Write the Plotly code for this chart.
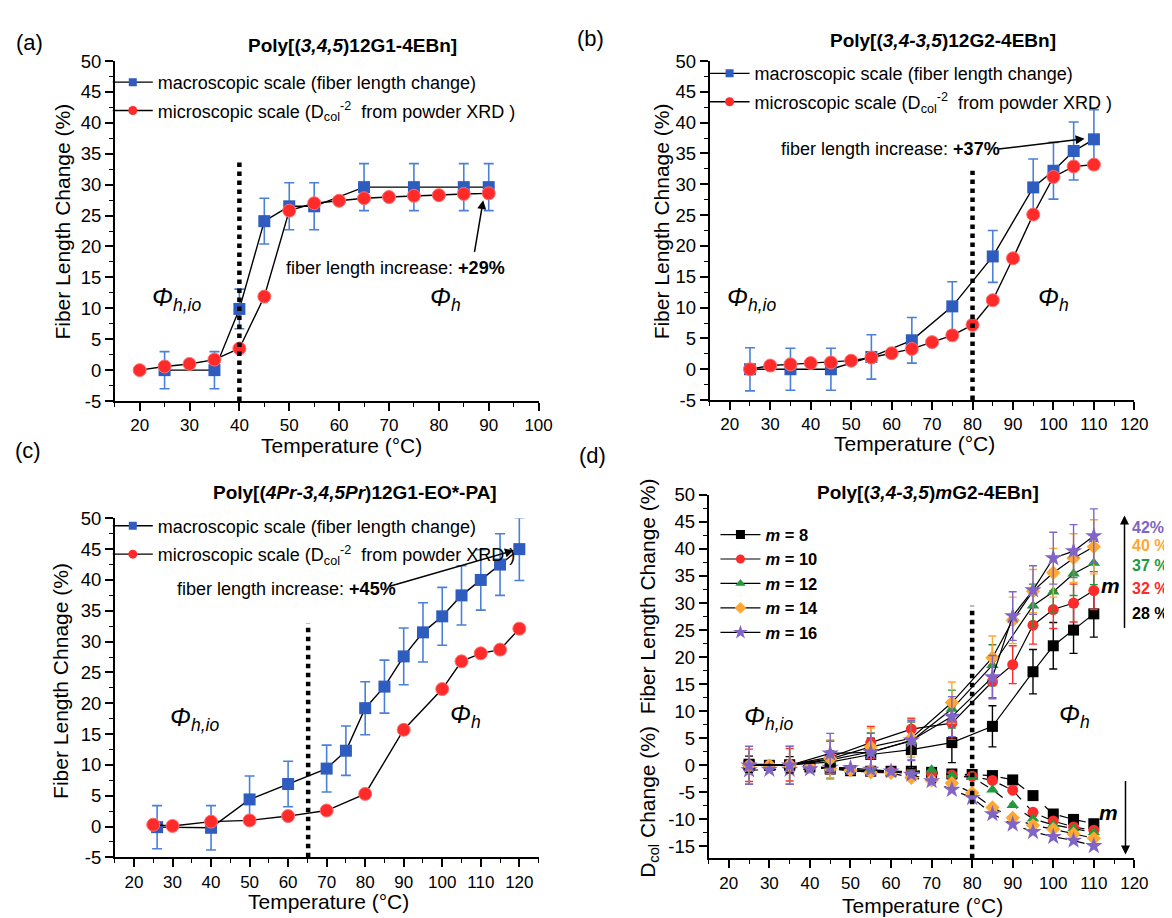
import plotly.graph_objects as go

# ---------------- data ----------------
# (a) Poly[(3,4,5)12G1-4EBn]
a_macro_T = [25, 35, 40, 45, 50, 55, 65, 75, 85, 90]
a_macro_v = [0, 0, 9.9, 24.1, 26.5, 26.5, 29.6, 29.6, 29.6, 29.6]
a_macro_err = [3.0, 3.0, 3.2, 3.7, 3.8, 3.8, 3.8, 3.8, 3.8, 3.8]
a_micro_T = [20, 25, 30, 35, 40, 45, 50, 55, 60, 65, 70, 75, 80, 85, 90]
a_micro_v = [0, 0.6, 1.0, 1.7, 3.5, 11.9, 25.8, 27.0, 27.4, 27.8, 28.0, 28.2, 28.3, 28.5, 28.6]

# (b) Poly[(3,4-3,5)12G2-4EBn]
b_macro_T = [25, 35, 45, 55, 65, 75, 85, 95, 100, 105, 110]
b_macro_v = [0, 0, 0, 2.0, 4.7, 10.2, 18.3, 29.5, 32.2, 35.4, 37.3]
b_macro_err = [3.5, 3.4, 3.4, 3.6, 3.7, 4.0, 4.2, 4.6, 4.6, 4.7, 4.8]
b_micro_T = [25, 30, 35, 40, 45, 50, 55, 60, 65, 70, 75, 80, 85, 90, 95, 100, 105, 110]
b_micro_v = [0, 0.6, 0.8, 1.0, 1.1, 1.4, 1.9, 2.6, 3.3, 4.4, 5.5, 7.2, 11.2, 18.0, 25.1, 31.2, 32.9, 33.2]

# (c) Poly[(4Pr-3,4,5Pr)12G1-EO*-PA]
c_macro_T = [26, 40, 50, 60, 70, 75, 80, 85, 90, 95, 100, 105, 110, 115, 120]
c_macro_v = [-0.1, -0.2, 4.4, 6.9, 9.4, 12.3, 19.2, 22.7, 27.6, 31.5, 34.1, 37.5, 40.0, 42.5, 45.0]
c_macro_err = [3.5, 3.6, 3.8, 3.7, 3.8, 4.0, 4.3, 4.3, 4.6, 4.8, 4.7, 4.8, 4.9, 5.0, 5.1]
c_micro_T = [25, 30, 40, 50, 60, 70, 80, 90, 100, 105, 110, 115, 120]
c_micro_v = [0.3, 0.1, 0.8, 1.0, 1.7, 2.6, 5.3, 15.7, 22.3, 26.8, 28.1, 28.7, 32.1]

# (d) Poly[(3,4-3,5)mG2-4EBn]
d_labels = ["8", "10", "12", "14", "16"]
d_fib_T = [
    [25, 35, 45, 55, 65, 75, 85, 95, 100, 105, 110],
    [25, 35, 45, 55, 65, 75, 85, 90, 95, 100, 105, 110],
    [25, 35, 45, 55, 65, 75, 85, 95, 100, 105, 110],
    [25, 35, 45, 55, 65, 75, 85, 90, 95, 100, 105, 110],
    [25, 35, 45, 55, 65, 75, 85, 90, 95, 100, 105, 110],
]
d_fib_v = [
    [0.2, 0.1, 0.6, 2.0, 2.9, 4.2, 7.2, 17.3, 22.1, 25.0, 28.0],
    [0, 0.1, 1.5, 4.2, 6.7, 7.8, 15.5, 18.6, 25.9, 28.8, 30.0, 32.3],
    [0, 0, 1.0, 2.5, 4.5, 10.4, 18.5, 29.5, 32.1, 35.4, 37.4],
    [0, 0.1, 1.2, 3.4, 5.0, 11.6, 19.9, 26.8, 32.2, 35.6, 38.3, 40.4],
    [0, 0, 2.2, 2.4, 4.6, 9.0, 16.3, 27.6, 32.4, 38.3, 39.6, 42.4],
]
d_fib_err = [
    [1.5, 1.5, 2.0, 3.0, 3.5, 3.7, 3.8, 4.1, 4.3, 4.3, 4.3],
    [3.0, 3.0, 3.0, 3.0, 2.0, 3.0, 3.0, 3.5, 3.5, 3.5, 3.5, 3.5],
    [3.5, 3.5, 3.5, 3.5, 3.5, 3.5, 3.8, 4.0, 4.0, 4.0, 4.0],
    [3.5, 3.5, 3.5, 3.5, 3.5, 3.8, 4.0, 4.3, 4.0, 4.5, 4.5, 5.0],
    [3.5, 3.5, 3.7, 3.5, 3.7, 3.7, 4.0, 4.5, 4.5, 4.8, 4.9, 5.0],
]
d_col_T = [25, 30, 35, 40, 45, 50, 55, 60, 65, 70, 75, 80, 85, 90, 95, 100, 105, 110]
d_col_v = [
    [0, 0, 0, -0.3, -0.7, -1.0, -1.1, -1.1, -1.1, -1.3, -1.6, -1.7, -1.9, -2.7, -5.6, -9.0, -10.0, -10.8],
    [0, 0, 0, -0.3, -0.6, -0.9, -1.1, -1.2, -1.3, -1.5, -1.8, -2.0, -2.8, -4.6, -8.7, -10.3, -11.4, -12.0],
    [0, 0, 0, -0.2, -0.5, -0.8, -1.0, -1.1, -1.2, -0.8, -1.9, -2.2, -4.5, -7.4, -9.9, -11.0, -11.7, -12.4],
    [0, 0, 0, -0.3, -0.6, -0.9, -1.3, -1.4, -2.3, -2.8, -3.3, -5.1, -7.8, -9.7, -11.1, -11.8, -12.7, -13.5],
    [-0.9, -0.8, -0.8, -0.7, -0.4, -0.5, -0.8, -1.1, -1.7, -2.9, -4.5, -6.0, -9.0, -10.9, -12.3, -13.2, -13.9, -14.9],
]
d_final = ["28 %", "32 %", "37 %", "40 %", "42%"]

transition_T = [40, 80, 65.2, 80]
increase_labels = ["+29%", "+37%", "+45%"]

# ---------------- styling ----------------
W, H = 1172, 918
FONT = "Liberation Sans, Arial, sans-serif"
BLUE = "#2f5cbf"
BLUE_ERR = "#4a80d8"
RED = "#ff2a2a"
D_COLORS = ["#000000", "#ff2a2a", "#1f9a3c", "#ffa733", "#8064c6"]
D_SYMBOLS = ["square", "circle", "triangle-up", "diamond", "star"]


def px(x):
    return x / W


def py(y):
    return 1 - y / H


fig = go.Figure()

panels = [
    dict(ax="", dom_x=(108, 537), dom_y=(43, 391), xr=[15, 100], yr=[-5, 50], xt=list(range(20, 101, 10)), yt=list(range(-5, 51, 5))),
    dict(ax="2", dom_x=(710, 1140), dom_y=(43, 390), xr=[15, 120], yr=[-5, 50], xt=list(range(20, 121, 10)), yt=list(range(-5, 51, 5))),
    dict(ax="3", dom_x=(108, 537), dom_y=(511, 858), xr=[15, 125], yr=[-5, 50], xt=list(range(20, 121, 10)), yt=list(range(-5, 51, 5))),
    dict(ax="4", dom_x=(709, 1140), dom_y=(487, 859), xr=[15, 120], yr=[-17.2, 50], xt=list(range(20, 121, 10)), yt=list(range(-15, 51, 5))),
]

layout_axes = {}
for p in panels:
    s = p["ax"]
    xa = dict(
        domain=[px(p["dom_x"][0]), px(p["dom_x"][1])], range=p["xr"], anchor="y" + s,
        showline=True, linecolor="black", linewidth=1.6, showgrid=False, zeroline=False,
        ticks="outside", ticklen=8, tickwidth=1.5, tickcolor="black",
        tickmode="array", tickvals=p["xt"], ticktext=[str(v) for v in p["xt"]],
        tickfont=dict(family=FONT, size=17, color="black"),
        minor=dict(ticks="outside", ticklen=4, tickwidth=1.2, tickcolor="black", tickmode="linear", tick0=0, dtick=5),
    )
    ya = dict(
        domain=[py(p["dom_y"][1]), py(p["dom_y"][0])], range=p["yr"], anchor="x" + s,
        showline=True, linecolor="black", linewidth=1.6, showgrid=False, zeroline=False,
        ticks="outside", ticklen=8, tickwidth=1.5, tickcolor="black",
        tickmode="array", tickvals=p["yt"], ticktext=[str(v) for v in p["yt"]],
        tickfont=dict(family=FONT, size=18.5, color="black"),
        minor=dict(ticks="outside", ticklen=4, tickwidth=1.2, tickcolor="black", tickmode="linear", tick0=0, dtick=2.5),
    )
    layout_axes["xaxis" + s] = xa
    layout_axes["yaxis" + s] = ya

macro_name = "macroscopic scale (fiber length change)"
micro_name = "microscopic scale (D<sub>col</sub><sup>-2</sup>  from powder XRD )"

abc = [
    (a_macro_T, a_macro_v, a_macro_err, a_micro_T, a_micro_v, "", "legend"),
    (b_macro_T, b_macro_v, b_macro_err, b_micro_T, b_micro_v, "2", "legend2"),
    (c_macro_T, c_macro_v, c_macro_err, c_micro_T, c_micro_v, "3", "legend3"),
]
for mT, mv, me, rT, rv, s, lg in abc:
    fig.add_trace(go.Scatter(
        x=mT, y=mv, mode="lines+markers", showlegend=False,
        xaxis="x" + s, yaxis="y" + s, cliponaxis=False,
        line=dict(color="black", width=1.4),
        marker=dict(symbol="square", size=12, color=BLUE),
        error_y=dict(type="data", array=me, visible=True, color=BLUE_ERR, thickness=1.6, width=5),
    ))
    fig.add_trace(go.Scatter(
        x=rT, y=rv, mode="lines+markers", showlegend=False,
        xaxis="x" + s, yaxis="y" + s, cliponaxis=False,
        line=dict(color="black", width=1.4),
        marker=dict(symbol="circle", size=13, color=RED, line=dict(color="#ff7070", width=1)),
    ))
    # legend entries (smaller symbols, as in the reference key)
    fig.add_trace(go.Scatter(
        x=[None], y=[None], mode="lines+markers", name=macro_name, legend=lg, legendgroup="m" + s,
        xaxis="x" + s, yaxis="y" + s, line=dict(color="black", width=1.4),
        marker=dict(symbol="square", size=8, color=BLUE),
    ))
    fig.add_trace(go.Scatter(
        x=[None], y=[None], mode="lines+markers", name=micro_name, legend=lg, legendgroup="r" + s,
        xaxis="x" + s, yaxis="y" + s, line=dict(color="black", width=1.4),
        marker=dict(symbol="circle", size=9, color=RED),
    ))

for i in range(5):
    fig.add_trace(go.Scatter(
        x=d_col_T, y=d_col_v[i], mode="lines+markers", showlegend=False,
        xaxis="x4", yaxis="y4", cliponaxis=False,
        line=dict(color="black", width=1.2, dash="dash"),
        marker=dict(symbol=D_SYMBOLS[i], size=13 if i == 4 else 11, color=D_COLORS[i]),
    ))
for i in range(5):
    fig.add_trace(go.Scatter(
        x=d_fib_T[i], y=d_fib_v[i], mode="lines+markers", showlegend=False,
        xaxis="x4", yaxis="y4", cliponaxis=False,
        line=dict(color="black", width=1.2),
        marker=dict(symbol=D_SYMBOLS[i], size=13 if i == 4 else 11, color=D_COLORS[i]),
        error_y=dict(type="data", array=d_fib_err[i], visible=True, color=D_COLORS[i], thickness=1.4, width=4),
    ))
for i in range(5):
    fig.add_trace(go.Scatter(
        x=[None], y=[None], mode="lines+markers",
        name="<b><i>m</i> = " + d_labels[i] + "</b>", legend="legend4", legendgroup="d" + str(i),
        xaxis="x4", yaxis="y4", line=dict(color="black", width=1.2),
        marker=dict(symbol=D_SYMBOLS[i], size=11 if i == 4 else 9, color=D_COLORS[i]),
    ))

# transition dotted lines
shape_list = []
dotted_tops = [34.3, 32.2, 33.0, 29.5]
dotted_bottoms = [-5, -5, -5, -17.2]
for i, s in enumerate(["", "2", "3", "4"]):
    shape_list.append(dict(
        type="line", xref="x" + s, yref="y" + s,
        x0=transition_T[i], x1=transition_T[i], y0=dotted_bottoms[i], y1=dotted_tops[i],
        line=dict(color="black", width=4.5, dash="dot"),
    ))

ann = []


def text(x, y, t, size=17, xref="paper", yref="paper", xanchor="center", yanchor="middle", angle=0, color="black"):
    ann.append(dict(x=x, y=y, xref=xref, yref=yref, text=t, showarrow=False, xanchor=xanchor, yanchor=yanchor,
                    textangle=angle, font=dict(family=FONT, size=size, color=color)))


# panel letters
text(px(22), py(24), "(a)", size=22)
text(px(590), py(20), "(b)", size=22)
text(px(20), py(442), "(c)", size=22)
text(px(592), py(447), "(d)", size=22)

# titles
text(px(349), py(27), "<b>Poly[(<i>3,4,5</i>)12G1-4EBn]</b>", size=19)
text(px(946), py(22), "<b>Poly[(<i>3,4-3,5</i>)12G2-4EBn]</b>", size=19)
text(px(351), py(485), "<b>Poly[(<i>4Pr-3,4,5Pr</i>)12G1-EO*-PA]</b>", size=19)
text(px(931), py(485), "<b>Poly[(<i>3,4-3,5</i>)<i>m</i>G2-4EBn]</b>", size=19)

# axis titles
text(px(338), py(436), "Temperature (°C)", size=21)
text(px(917), py(434), "Temperature (°C)", size=21)
text(px(324), py(903), "Temperature (°C)", size=21)
text(px(926), py(907), "Temperature (°C)", size=21)
text(px(55), py(207), "Fiber Length Change (%)", size=21, angle=-90)
text(px(661), py(207), "Fiber Length Chnage (%)", size=21, angle=-90)
text(px(53), py(677), "Fiber Length Chnage (%)", size=21, angle=-90)
text(px(648), py(675), "D<sub>col</sub> Change (%)  Fiber Length Change (%)", size=21, angle=-90)

# phase labels
phi_io = "<i>Φ<sub>h,io</sub></i>"
phi_h = "<i>Φ<sub>h</sub></i>"
PHI = 25
text(27.3, 11.5, phi_io, size=PHI, xref="x", yref="y")
text(81.4, 11.5, phi_h, size=PHI, xref="x", yref="y")
text(25.3, 11.4, phi_io, size=PHI, xref="x2", yref="y2")
text(100.1, 11.4, phi_h, size=PHI, xref="x2", yref="y2")
text(35.6, 17.4, phi_io, size=PHI, xref="x3", yref="y3")
text(106.0, 18.0, phi_h, size=PHI, xref="x3", yref="y3")
text(29.9, 8.8, phi_io, size=PHI, xref="x4", yref="y4")
text(105.2, 9.1, phi_h, size=PHI, xref="x4", yref="y4")

# fiber length increase texts and arrows
inc_pos = [(71.4, 16.6, "", (88.9, 27.5), (87.1, 18.9)),
           (59.8, 35.7, "2", (107.7, 37.4), (86.1, 35.7)),
           (59.5, 38.6, "3", (118.6, 44.8), (86.0, 38.9))]
for i, (tx, ty, s, head, tail) in enumerate(inc_pos):
    text(tx, ty, "fiber length increase: <b>" + increase_labels[i] + "</b>", size=18, xref="x" + s, yref="y" + s)
    ann.append(dict(x=head[0], y=head[1], ax=tail[0], ay=tail[1], xref="x" + s, yref="y" + s,
                    axref="x" + s, ayref="y" + s, text="", showarrow=True, arrowhead=2, arrowsize=1.2,
                    arrowwidth=1.5, arrowcolor="black"))

# (d) right-side trend arrows and labels
ann.append(dict(x=px(1130), y=py(508), xref="paper", yref="paper", ax=0, ay=114, axref="pixel", ayref="pixel",
                text="", showarrow=True, arrowhead=2, arrowsize=1.2, arrowwidth=1.5, arrowcolor="black"))
ann.append(dict(x=px(1131), y=py(855), xref="paper", yref="paper", ax=0, ay=-75, axref="pixel", ayref="pixel",
                text="", showarrow=True, arrowhead=2, arrowsize=1.2, arrowwidth=1.5, arrowcolor="black"))
text(px(1116), py(580), "<b><i>m</i></b>", size=21)
text(px(1114), py(812), "<b><i>m</i></b>", size=21)
label_y = [608, 583, 559, 539, 520]
for i in range(5):
    text(px(1136), py(label_y[i]), "<b>" + d_final[i] + "</b>", size=16, xanchor="left", color=D_COLORS[i])

leg_common = dict(bgcolor="rgba(0,0,0,0)", borderwidth=0, xanchor="left", yanchor="top",
                  font=dict(family=FONT, size=18, color="black"), tracegroupgap=2, itemwidth=40)

fig.update_layout(
    width=W, height=H, margin=dict(l=0, r=0, t=0, b=0),
    paper_bgcolor="white", plot_bgcolor="white",
    font=dict(family=FONT, color="black"),
    shapes=shape_list, annotations=ann,
    legend=dict(x=px(101), y=py(46), **leg_common),
    legend2=dict(x=px(705), y=py(37), **leg_common),
    legend3=dict(x=px(101), y=py(500), **leg_common),
    legend4=dict(x=px(716), y=py(510), **{**leg_common, "font": dict(family=FONT, size=16.5, color="black"), "tracegroupgap": 0}),
    **layout_axes,
)

fig.write_html("out.html")
